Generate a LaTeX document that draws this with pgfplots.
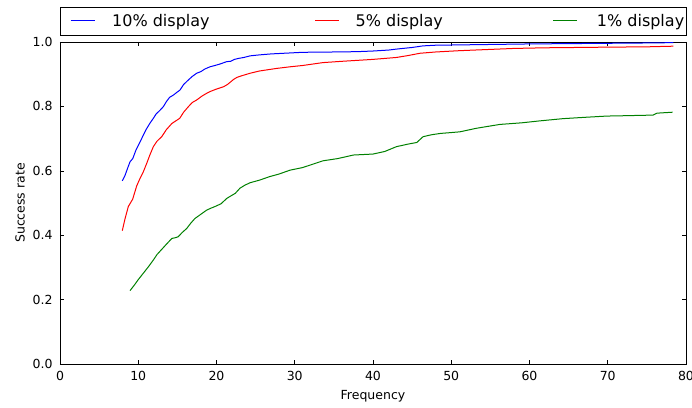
\documentclass[border=0pt]{standalone}
\usepackage{pgfplots}
\pgfplotsset{compat=1.18}
\usepackage{fontspec}
\setmainfont{DejaVu Sans}

\definecolor{mplblue}{rgb}{0,0,1}
\definecolor{mplred}{rgb}{1,0,0}
\definecolor{mplgreen}{rgb}{0,0.5,0}

\pgfplotsset{
  legend image code/.code={\draw[#1] (0pt,0pt) -- (24pt,0pt);},
}

\begin{document}
\begin{tikzpicture}
\path[use as bounding box] (-60pt,-43pt) rectangle (632pt,364pt);
% legend frame spanning the full width above the plot area
\draw[black, line width=0.8pt] (0pt,329pt) rectangle (626pt,357pt);
\begin{axis}[
  at={(0pt,0pt)}, anchor=south west,
  scale only axis, width=626pt, height=322pt,
  xmin=0, xmax=80, ymin=0, ymax=1,
  xtick={0,10,20,30,40,50,60,70,80},
  ytick={0,0.2,0.4,0.6,0.8,1.0},
  tick align=inside, tick pos=both,
  major tick length=4pt,
  tick style={black, line width=0.6pt},
  axis line style={black, line width=0.8pt},
  tick label style={font=\fontsize{12.5}{15}\selectfont, /pgf/number format/assume math mode=true},
  xticklabel style={yshift=-4pt},
  yticklabel style={xshift=-4pt, /pgf/number format/fixed, /pgf/number format/fixed zerofill, /pgf/number format/precision=1},
  every axis x label/.style={at={(axis description cs:0.5,0)}, anchor=center, yshift=-32pt, font=\fontsize{12.5}{15}\selectfont},
  every axis y label/.style={at={(axis description cs:0,0.5)}, anchor=center, rotate=90, yshift=40pt, font=\fontsize{12.5}{15}\selectfont},
  xlabel={Frequency},
  ylabel={Success rate},
  legend columns=3,
  legend style={
    at={(axis description cs:0,1)}, anchor=west, yshift=21pt,
    draw=none, fill=none,
    inner xsep=10pt, inner ysep=0pt,
    font=\fontsize{16}{19}\selectfont,
    nodes={inner sep=0pt},
    /tikz/column 1/.style={column sep=17pt},
    /tikz/column 2/.style={column sep=105pt},
    /tikz/column 3/.style={column sep=16pt},
    /tikz/column 4/.style={column sep=110pt},
    /tikz/column 5/.style={column sep=19pt},
  },
]

% 10% display
\addplot[draw=mplblue, line width=1pt] coordinates {
(7.96,0.569) (8.3,0.585) (8.7,0.612) (8.95,0.628) (9.3,0.638) (9.7,0.664)
(10.2,0.688) (10.65,0.711) (11.0,0.728) (11.5,0.748) (11.93,0.763) (12.3,0.777)
(12.7,0.786) (13.2,0.799) (13.6,0.815) (14.0,0.828) (14.48,0.835) (14.9,0.843)
(15.34,0.851) (15.8,0.868) (16.4,0.882) (16.9,0.893) (17.47,0.903) (18.0,0.908)
(18.5,0.916) (19.17,0.923) (19.8,0.927) (20.5,0.932) (21.3,0.939) (21.8,0.940)
(22.3,0.946) (22.8,0.949) (23.5,0.952) (24.3,0.957) (25.5,0.960) (27,0.963)
(29.4,0.966) (31,0.968) (35,0.969) (38,0.970) (40,0.972) (42,0.975)
(43,0.978) (45,0.983) (46.4,0.988) (48,0.990) (51,0.991) (54,0.992)
(60,0.994) (65,0.995) (70,0.996) (75,0.997) (78.4,0.998)
};
\addlegendentry{10\% display}

% 5% display
\addplot[draw=mplred, line width=1pt] coordinates {
(7.96,0.414) (8.3,0.45) (8.73,0.489) (9.29,0.512) (9.8,0.553) (10.2,0.575)
(10.65,0.597) (11.08,0.623) (11.5,0.650) (11.93,0.675) (12.4,0.692) (13.0,0.706)
(13.6,0.728) (14.3,0.747) (14.8,0.755) (15.3,0.763) (15.8,0.782) (16.4,0.799)
(16.9,0.812) (17.47,0.820) (18.2,0.833) (18.7,0.840) (19.17,0.846) (19.9,0.853)
(20.9,0.861) (21.4,0.868) (21.7,0.874) (22.2,0.884) (22.6,0.890) (23.2,0.895)
(24.3,0.903) (25.5,0.910) (27.7,0.918) (29.4,0.923) (31,0.927) (33.6,0.936)
(36,0.940) (38,0.943) (40,0.946) (43,0.952) (44.5,0.958) (46,0.965)
(48,0.969) (51,0.973) (55,0.977) (58,0.980) (62,0.982) (70,0.984)
(75,0.985) (78.4,0.987)
};
\addlegendentry{5\% display}

% 1% display
\addplot[draw=mplgreen, line width=1pt] coordinates {
(8.95,0.228) (9.5,0.245) (10.0,0.262) (10.65,0.282) (11.3,0.302) (11.93,0.323)
(12.4,0.340) (13.0,0.356) (13.6,0.372) (14.3,0.390) (14.7,0.392) (15.1,0.395)
(15.6,0.408) (16.2,0.421) (16.7,0.437) (17.25,0.452) (18.0,0.465) (18.75,0.478)
(19.3,0.484) (20.0,0.491) (20.6,0.498) (21.3,0.514) (21.7,0.520) (22.4,0.530)
(23.0,0.546) (23.6,0.555) (24.3,0.563) (25.5,0.571) (26.8,0.582) (28,0.590)
(29.4,0.602) (31,0.610) (33.6,0.631) (35.5,0.638) (37.5,0.649) (40,0.652)
(41.5,0.660) (43,0.675) (44.5,0.683) (45.6,0.688) (46.4,0.706) (47.5,0.712)
(48.6,0.716) (51.1,0.721) (53.2,0.732) (56.2,0.744) (59,0.749) (61.3,0.755)
(64.3,0.762) (67,0.766) (69.9,0.770) (72,0.771) (75.8,0.773) (76.3,0.779)
(78.3,0.782)
};
\addlegendentry{1\% display}

\end{axis}
\end{tikzpicture}
\end{document}
